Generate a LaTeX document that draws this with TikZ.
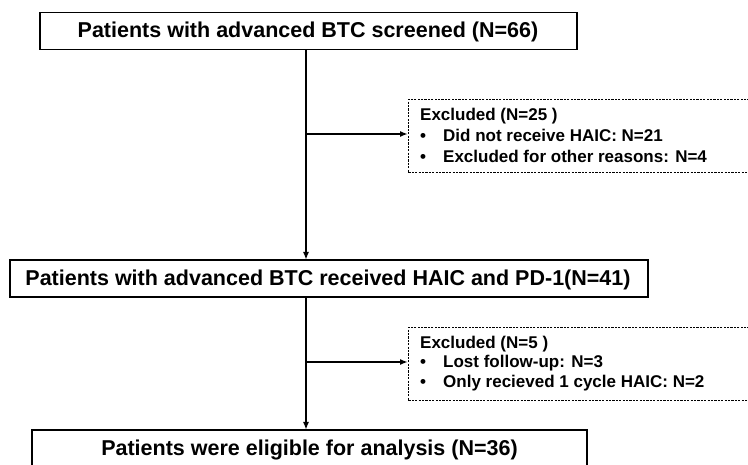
\documentclass[tikz,border=0pt]{standalone}
\usepackage{fontspec}
\setmainfont{Liberation Sans}
\usetikzlibrary{arrows.meta}
\newcommand{\bulletitem}[1]{\makebox[23pt][l]{•}#1}
\begin{document}
\begin{tikzpicture}[x=1pt,y=-1pt,
  mainbox/.style={draw,line width=1.6pt,minimum height=37pt,inner sep=0pt},
  maintext/.style={anchor=base,inner sep=0pt,font=\bfseries\fontsize{21.5}{24}\selectfont},
  exclbox/.style={draw,dashed,dash pattern=on 2.2pt off 1.2pt,line width=0.8pt,inner sep=0pt},
  exltext/.style={anchor=base west,inner sep=0pt,font=\bfseries\fontsize{17}{20}\selectfont},
  flow/.style={line width=1.6pt,-{Latex[length=8pt,width=6pt]}}]
\useasboundingbox (0,0) rectangle (748,465);
\clip (0,0) rectangle (748,465);

% main stages
\node[mainbox,minimum width=537pt] (screen) at (308.5,31) {};
\node[maintext] (screentxt) at (308,37.7) {Patients with advanced BTC screened (N=66)};
\node[mainbox,minimum width=638pt] (recv) at (329,278.5) {};
\node[maintext] (recvtxt) at (328,285.3) {Patients with advanced BTC received HAIC and PD-1(N=41)};
\node[mainbox,minimum width=555pt,minimum height=40pt] (elig) at (309.5,450) {};
\node[maintext] (eligtxt) at (309.5,455) {Patients were eligible for analysis (N=36)};

% exclusion boxes
\node[exclbox,minimum width=350pt,minimum height=73pt,anchor=north west] (ex1) at (408,99) {};
\node[exltext] (ex1a) at (420,121) {Excluded (N=25 )};
\node[exltext] (ex1b) at (420,142) {\bulletitem{Did not receive HAIC: N=21}};
\node[exltext] (ex1c) at (420,163) {\bulletitem{Excluded for other reasons: N=4}};

\node[exclbox,minimum width=350pt,minimum height=73pt,anchor=north west] (ex2) at (408,327) {};
\node[exltext] (ex2a) at (420,349) {Excluded (N=5 )};
\node[exltext] (ex2b) at (420,368) {\bulletitem{Lost follow-up: N=3}};
\node[exltext] (ex2c) at (420,388) {\bulletitem{Only recieved 1 cycle HAIC: N=2}};

% connectors
\coordinate (s1) at (306,134);
\coordinate (s2) at (306,362);
\draw[flow] (306,50) -- (306,260);
\draw[flow] (s1) -- (s1 -| ex1.west);
\draw[flow] (306,297) -- (306,430);
\draw[flow] (s2) -- (s2 -| ex2.west);
\end{tikzpicture}
\end{document}
